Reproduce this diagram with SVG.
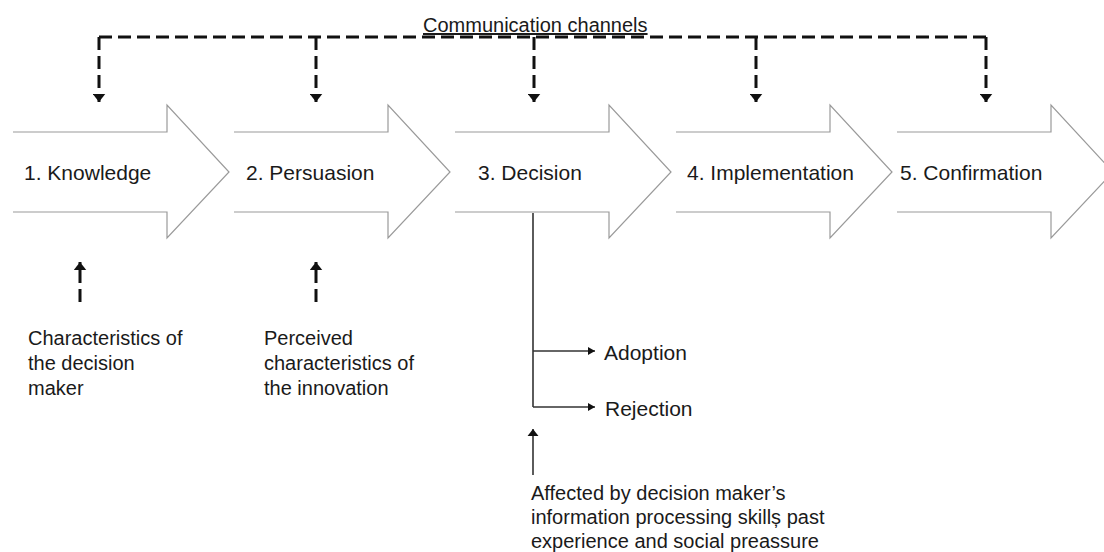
<svg xmlns="http://www.w3.org/2000/svg" width="1104" height="552" viewBox="0 0 1104 552">
  <style>
    .stage { fill: #ffffff; stroke: #9a9a9a; stroke-width: 1.2; }
    .lbl { font-family: "Liberation Sans", Arial, sans-serif; fill: #1a1a1a; }
    .big { font-size: 21px; }
    .small { font-size: 20px; }
    .dash { fill: none; stroke: #111111; stroke-width: 3; stroke-dasharray: 13 6; }
    .solid { fill: none; stroke: #333333; stroke-width: 1.6; }
  </style>
  <defs>
    <marker id="headDash" viewBox="0 0 10 14" refX="9" refY="7" markerWidth="9" markerHeight="13" markerUnits="userSpaceOnUse" orient="auto">
      <path d="M0,0 L9,7 L0,14 z" fill="#111111"/>
    </marker>
    <marker id="headSmall" viewBox="0 0 10 10" refX="9" refY="5" markerWidth="8" markerHeight="8" markerUnits="userSpaceOnUse" orient="auto">
      <path d="M0,0 L9,5 L0,10 z" fill="#111111"/>
    </marker>
    <marker id="headUp" viewBox="0 0 10 14" refX="9" refY="7" markerWidth="8" markerHeight="13" markerUnits="userSpaceOnUse" orient="auto">
      <path d="M0,0 L9,7 L0,14 z" fill="#111111"/>
    </marker>
  </defs>
  <rect width="1104" height="552" fill="#ffffff"/>

  <!-- stage arrows -->
  <g id="stage1">
    <path class="stage" d="M13,132 H167 V105 L229,172 L167,238 V212 H13"/>
    <text class="lbl big" x="24" y="180">1. Knowledge</text>
  </g>
  <g id="stage2">
    <path class="stage" d="M234,132 H388 V105 L450,172 L388,238 V212 H234"/>
    <text class="lbl big" x="246" y="180">2. Persuasion</text>
  </g>
  <g id="stage3">
    <path class="stage" d="M455,132 H609 V105 L671,172 L609,238 V212 H455"/>
    <text class="lbl big" x="478" y="180">3. Decision</text>
  </g>
  <g id="stage4">
    <path class="stage" d="M676,132 H830 V105 L892,172 L830,238 V212 H676"/>
    <text class="lbl big" x="687" y="180">4. Implementation</text>
  </g>
  <g id="stage5">
    <path class="stage" d="M897,132 H1051 V105 L1113,172 L1051,238 V212 H897"/>
    <text class="lbl big" x="900" y="180">5. Confirmation</text>
  </g>

  <!-- inputs and outcomes -->
  <g id="channels">
    <text class="lbl small" x="423" y="32" text-decoration="underline">Communication channels</text>
  </g>
  <g id="decisionMaker">
    <text class="lbl small" x="28" y="345">Characteristics of</text>
    <text class="lbl small" x="28" y="370">the decision</text>
    <text class="lbl small" x="28" y="395">maker</text>
  </g>
  <g id="innovation">
    <text class="lbl small" x="264" y="345">Perceived</text>
    <text class="lbl small" x="264" y="370">characteristics of</text>
    <text class="lbl small" x="264" y="395">the innovation</text>
  </g>
  <g id="adoption">
    <text class="lbl big" x="604" y="360">Adoption</text>
  </g>
  <g id="rejection">
    <text class="lbl big" x="605" y="416">Rejection</text>
  </g>
  <g id="influences">
    <text class="lbl small" x="531" y="500">Affected by decision maker’s</text>
    <text class="lbl small" x="531" y="524">information processing skillș past</text>
    <text class="lbl small" x="531" y="548">experience and social preassure</text>
  </g>

  <!-- connectors -->
  <g id="connectors">
    <path class="dash" d="M99,37 H986"/>
    <path class="dash" d="M99,37 V102" marker-end="url(#headDash)"/>
    <path class="dash" d="M316,37 V102" marker-end="url(#headDash)"/>
    <path class="dash" d="M534,37 V102" marker-end="url(#headDash)"/>
    <path class="dash" d="M756,37 V102" marker-end="url(#headDash)"/>
    <path class="dash" d="M986,37 V102" marker-end="url(#headDash)"/>

    <path class="dash" d="M80,302 V262" marker-end="url(#headDash)"/>
    <path class="dash" d="M316,302 V262" marker-end="url(#headDash)"/>

    <path class="solid" d="M533,213 V407"/>
    <path class="solid" d="M533,351 H595" marker-end="url(#headSmall)"/>
    <path class="solid" d="M533,407 H595" marker-end="url(#headSmall)"/>
    <path class="solid" d="M533,475 V429" marker-end="url(#headUp)"/>
  </g>
</svg>
